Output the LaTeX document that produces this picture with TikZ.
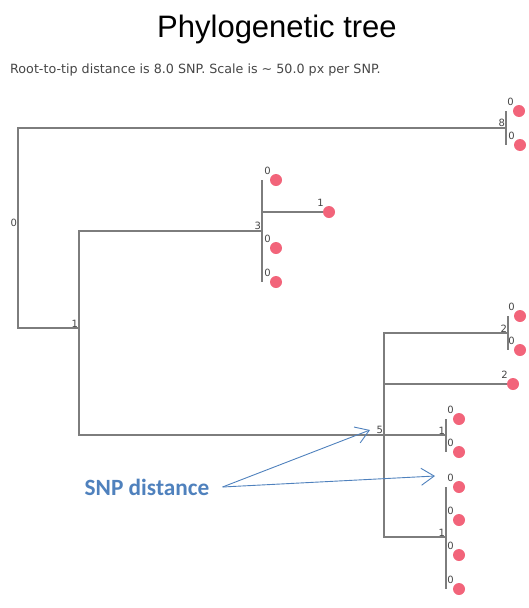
\documentclass[tikz,border=0pt]{standalone}
\usepackage{fontspec}
\setmainfont{DejaVu Sans}
\newfontfamily\titlefont{Liberation Sans}
\newfontfamily\notefont{Carlito}
\usetikzlibrary{positioning,arrows.meta}
\definecolor{branchgray}{RGB}{125,125,125}
\definecolor{tippink}{RGB}{242,100,122}
\definecolor{noteblue}{RGB}{79,129,189}
\definecolor{numgray}{RGB}{70,70,70}
\tikzset{
  branch/.style={line width=1.5pt, draw=branchgray},
  inode/.style={inner sep=0pt, minimum size=0pt},
  tipdot/.style={circle, fill=tippink, inner sep=0pt, minimum size=12pt},
  num/.style={font=\fontsize{10}{11}\selectfont, text=numgray, inner sep=0.6pt},
  callout/.style={-{Straight Barb[length=13pt, width=17pt]}, line width=0.9pt, draw=noteblue}
}

\begin{document}
\begin{tikzpicture}[x=1pt, y=-1pt, label distance=0pt]
  \useasboundingbox (0,0) rectangle (529,608);
  \node[font=\titlefont\fontsize{31}{33}\selectfont] (title) at (277,29) {Phylogenetic tree};
  \node[font=\fontsize{12.7}{14}\selectfont, text=numgray, anchor=west, inner sep=0pt] (info) at (10,70)
    {Root-to-tip distance is 8.0 SNP. Scale is \textasciitilde{} 50.0 px per SNP.};

  \node[inode, label={[num]above left:0}] (root) at (18,228) {};
  \node[inode, label={[num]above left:8}] (n8) at (506,128) {};
  \node[inode, label={[num]above left:1}] (n1) at (79,328) {};
  \node[inode, label={[num]above left:3}] (n3) at (262,231) {};
  \node[inode, label={[num]above left:5}] (n5) at (384,435) {};
  \node[inode, label={[num]above left:2}] (n2) at (508,333) {};
  \node[inode, label={[num]above left:1}] (n1a) at (446,435) {};
  \node[inode, label={[num]above left:1}] (n1b) at (446,537) {};

  \node[tipdot, label={[num]above left:0}] (t8a) at (519,111) {};
  \node[tipdot, label={[num]above left:0}] (t8b) at (520,145) {};
  \node[tipdot, label={[num]above left:0}] (t3a) at (276,180) {};
  \node[tipdot, label={[num]above left:1}] (t3b) at (329,212) {};
  \node[tipdot, label={[num]above left:0}] (t3c) at (276,248) {};
  \node[tipdot, label={[num]above left:0}] (t3d) at (276,282) {};
  \node[tipdot, label={[num]above left:0}] (t2a) at (520,316) {};
  \node[tipdot, label={[num]above left:0}] (t2b) at (520,350) {};
  \node[tipdot, label={[num]above left:2}] (t5) at (513,384) {};
  \node[tipdot, label={[num]above left:0}] (t1a) at (459,419) {};
  \node[tipdot, label={[num]above left:0}] (t1b) at (459,452) {};
  \node[tipdot, label={[num]above left:0}] (t1c) at (459,487) {};
  \node[tipdot, label={[num]above left:0}] (t1d) at (459,520) {};
  \node[tipdot, label={[num]above left:0}] (t1e) at (459,555) {};
  \node[tipdot, label={[num]above left:0}] (t1f) at (459,589) {};

  \draw[branch] (root) |- (n8);
  \draw[branch] (root) |- (n1);
  \draw[branch] (n8 |- t8a) -- (n8 |- t8b);
  \draw[branch] (n1) |- (n3);
  \draw[branch] (n1) |- (n5);
  \draw[branch] (n3 |- t3a) -- (n3 |- t3d);
  \draw[branch] (n3 |- t3b) -- (t3b.west);
  \draw[branch] (n5) |- (n2);
  \draw[branch] (n5) |- (t5.west);
  \draw[branch] (n5) -- (n1a);
  \draw[branch] (n5) |- (n1b);
  \draw[branch] (n2 |- t2a) -- (n2 |- t2b);
  \draw[branch] (n1a |- t1a) -- (n1a |- t1b);
  \draw[branch] (n1b |- t1c) -- (n1b |- t1f);

  \node[font=\notefont\bfseries\fontsize{23.3}{25}\selectfont, text=noteblue, inner xsep=13pt] (snp) at (147,487) {SNP distance};
  \coordinate (aim5) at (370,430);
  \coordinate (aim0) at (435,476);
  \draw[callout] (snp.east) -- (aim5);
  \draw[callout] (snp.east) -- (aim0);
\end{tikzpicture}
\end{document}
